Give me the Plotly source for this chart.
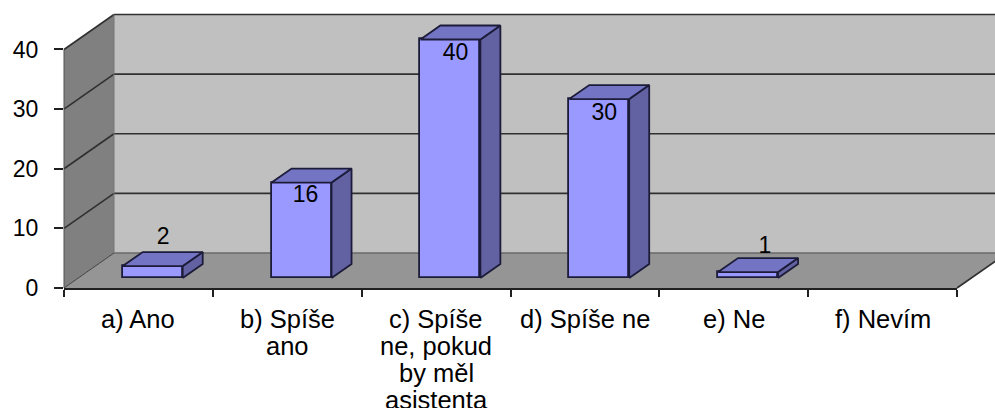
import plotly.graph_objects as go

# Survey answers and their counts
categories = ["a) Ano", "b) Spíše ano", "c) Spíše ne, pokud by měl asistenta",
              "d) Spíše ne", "e) Ne", "f) Nevím"]
category_lines = [["a) Ano"], ["b) Spíše", "ano"], ["c) Spíše", "ne, pokud", "by měl", "asistenta"],
                  ["d) Spíše ne"], ["e) Ne"], ["f) Nevím"]]
values = [2, 16, 40, 30, 1, 0]
value_ticks = [0, 10, 20, 30, 40]

# Pseudo-3D projection, in axis units
WALL_DX = 0.336
WALL_DY = 5.87
BAR_FRONT = 0.286   # share of the floor depth in front of the bars
BAR_DEPTH = 0.40    # share of the floor depth taken up by a bar
BAR_WIDTH = 0.403
VALUE_MAX = 40
YTOP = 48.3         # headroom so the tallest bar and the walls stay inside the axes
NCAT = len(categories)

# Label placement relative to the top of each bar
label_dy = [4.7, -2.3, -2.4, -2.6, 4.2]
label_dx = [0.07, 0.027, 0.034, 0.034, 0.114]

FONT = "Liberation Sans"
FS_VALUE = 23
FS_CATEGORY = 25.5
EDGE = "#1c1c3a"


def paper(x, y):
    return x / NCAT, y / YTOP


def poly(points, fill):
    path = []
    for i, (x, y) in enumerate(points):
        px, py = paper(x, y)
        path.append(f"{'M' if i == 0 else 'L'}{px:.5f},{py:.5f}")
    return dict(type="path", path=" ".join(path) + " Z", xref="paper", yref="paper",
                fillcolor=fill, layer="below", line=dict(color=fill, width=0))


def seg(x0, y0, x1, y1, color="#303030", width=1.6):
    a, b = paper(x0, y0), paper(x1, y1)
    return dict(type="line", x0=a[0], y0=a[1], x1=b[0], y1=b[1], xref="paper", yref="paper",
                layer="below", line=dict(color=color, width=width))


shapes = [
    poly([(WALL_DX, WALL_DY), (NCAT + 0.5, WALL_DY), (NCAT + 0.5, VALUE_MAX + WALL_DY),
          (WALL_DX, VALUE_MAX + WALL_DY)], "#c0c0c0"),
    poly([(0, 0), (WALL_DX, WALL_DY), (WALL_DX, VALUE_MAX + WALL_DY), (0, VALUE_MAX)], "#808080"),
    poly([(0, 0), (NCAT, 0), (NCAT + WALL_DX, WALL_DY), (WALL_DX, WALL_DY)], "#959595"),
]
for v in value_ticks:
    colour = "#6a6a6a" if v == 0 else "#303030"
    shapes.append(seg(WALL_DX, v + WALL_DY, NCAT + 0.5, v + WALL_DY, colour))
    if v > 0:
        shapes.append(seg(0, v, WALL_DX, v + WALL_DY))
shapes.append(seg(0, 0, WALL_DX, WALL_DY, "#404040", 1))
shapes.append(seg(NCAT, 0, NCAT + WALL_DX, WALL_DY))
shapes.append(seg(WALL_DX, WALL_DY, WALL_DX, VALUE_MAX + WALL_DY, "#777777", 1))
shapes.append(seg(0, 0, 0, VALUE_MAX, "#505050", 1))

fig = go.Figure()

centres = [i + 0.5 + WALL_DX * BAR_FRONT for i in range(NCAT)]
base = WALL_DY * BAR_FRONT
ddx = WALL_DX * BAR_DEPTH
ddy = WALL_DY * BAR_DEPTH
shown = [i for i in range(NCAT) if values[i] > 0]

# Front faces
fig.add_trace(go.Bar(
    x=[centres[i] for i in shown], y=[values[i] for i in shown], base=base,
    width=BAR_WIDTH, marker=dict(color="#9999ff", line=dict(color=EDGE, width=1.8)),
    cliponaxis=False, showlegend=False,
))

# Side and top faces
for i in shown:
    left = centres[i] - BAR_WIDTH / 2
    right = centres[i] + BAR_WIDTH / 2
    top = base + values[i]
    fig.add_trace(go.Scatter(
        x=[right, right + ddx, right + ddx, right, right],
        y=[base, base + ddy, top + ddy, top, base],
        mode="lines", fill="toself", fillcolor="#6262a2",
        line=dict(color=EDGE, width=1.8), cliponaxis=False, showlegend=False,
    ))
    fig.add_trace(go.Scatter(
        x=[left, left + ddx, right + ddx, right, left],
        y=[top, top + ddy, top + ddy, top, top],
        mode="lines", fill="toself", fillcolor="#7474c4",
        line=dict(color=EDGE, width=1.8), cliponaxis=False, showlegend=False,
    ))

# Value labels
fig.add_trace(go.Scatter(
    x=[centres[i] + label_dx[i] for i in shown],
    y=[base + values[i] + label_dy[i] for i in shown],
    mode="text", text=[str(values[i]) for i in shown], textposition="middle center",
    textfont=dict(family=FONT, size=FS_VALUE, color="black"), cliponaxis=False, showlegend=False,
))

# Category labels, one annotation per line for tight leading
annotations = []
for i, lines in enumerate(category_lines):
    for k, line in enumerate(lines):
        annotations.append(dict(
            x=i + 0.5, xref="x", y=0, yref="paper", yanchor="middle", xanchor="center",
            yshift=-(31 + 27 * k), text=line, showarrow=False,
            font=dict(family=FONT, size=FS_CATEGORY, color="black"),
        ))

fig.update_layout(
    width=995, height=408, autosize=False,
    margin=dict(l=64, r=38, t=0, b=120, pad=0),
    paper_bgcolor="white", plot_bgcolor="rgba(0,0,0,0)",
    shapes=shapes, annotations=annotations, showlegend=False, bargap=0,
    xaxis=dict(range=[0, NCAT], tickmode="array", tickvals=list(range(NCAT + 1)), showticklabels=False,
               ticks="outside", ticklen=7, tickcolor="#202020", tickwidth=1.5,
               showline=True, linecolor="#202020", linewidth=1.5, showgrid=False, zeroline=False, fixedrange=True),
    yaxis=dict(range=[0, YTOP], tickmode="array", tickvals=value_ticks, ticks="outside", ticklen=9,
               tickcolor="#202020", tickwidth=1.5, ticklabelstandoff=11,
               tickfont=dict(family=FONT, size=FS_VALUE, color="black"),
               showline=False, showgrid=False, zeroline=False, fixedrange=True),
)

fig.write_html("out.html", config=dict(displayModeBar=False))
